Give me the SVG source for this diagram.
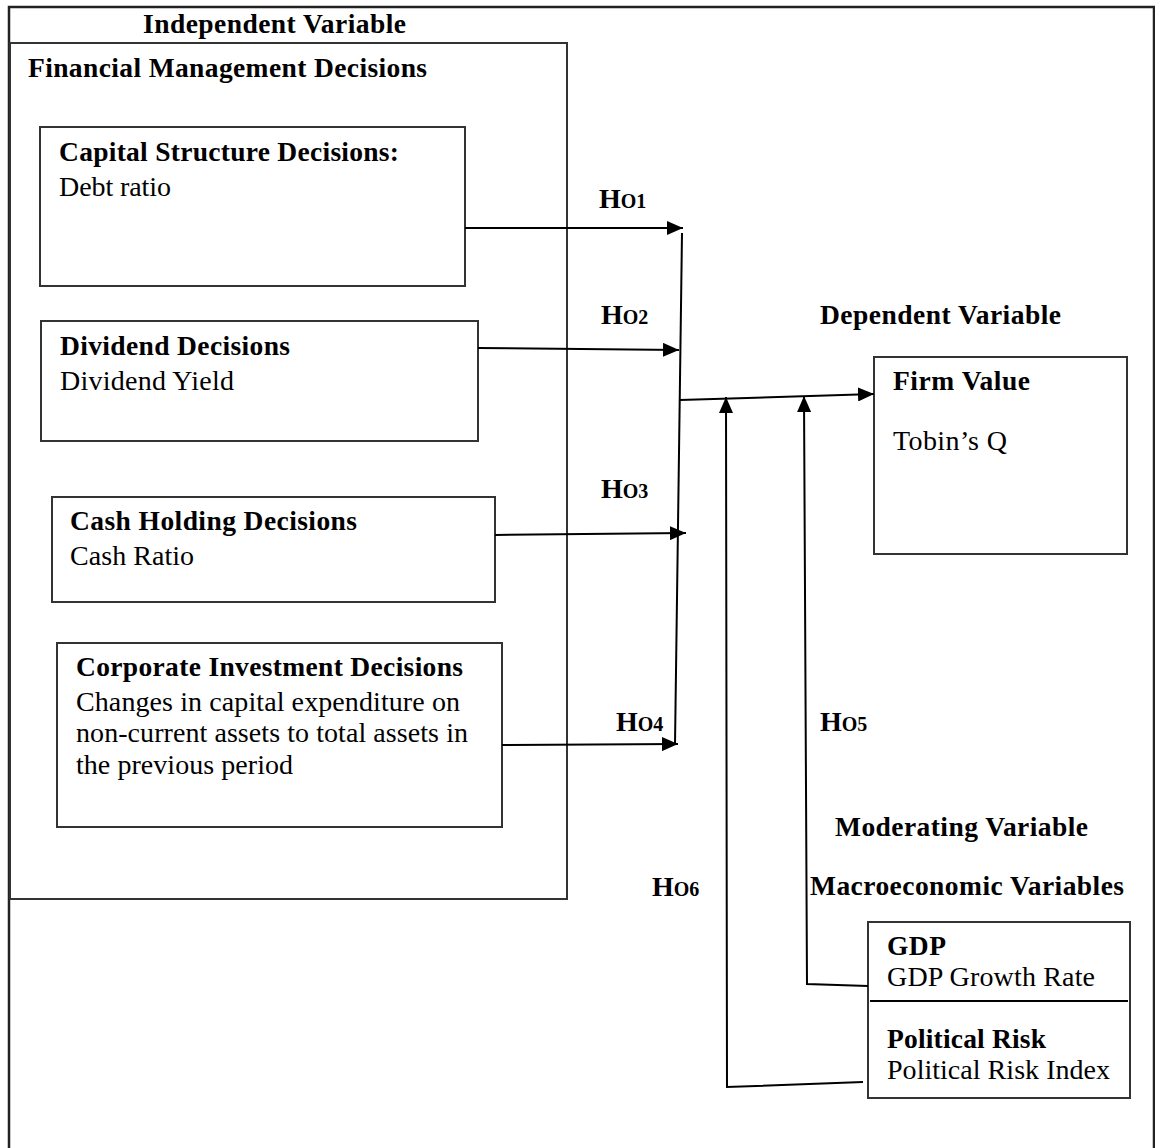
<svg xmlns="http://www.w3.org/2000/svg" width="1155" height="1148" viewBox="0 0 1155 1148">
<style>
.box{fill:#fff;stroke:#333;stroke-width:2}
.frame{fill:none;stroke:#222;stroke-width:2.5}
.b{font-family:"Liberation Serif","Times New Roman",serif;font-weight:bold;font-size:27.5px;fill:#000}
.r{font-family:"Liberation Serif","Times New Roman",serif;font-size:28px;fill:#000}
.h{font-family:"Liberation Serif","Times New Roman",serif;font-weight:bold;font-size:28px;fill:#000}
.hs{font-size:20px}
.c{fill:none;stroke:#000;stroke-width:2}
</style>
<defs>
<marker id="ah" markerUnits="userSpaceOnUse" markerWidth="17" markerHeight="14" refX="16" refY="7" orient="auto">
<path d="M0,0 L16,7 L0,14 z" fill="#000"/>
</marker>
</defs>
<rect class="frame" x="9" y="7" width="1145" height="1145"/>
<text class="b" x="143" y="33" textLength="263" lengthAdjust="spacing">Independent Variable</text>
<g id="fmd">
<rect class="box" x="10" y="43" width="557" height="856"/>
<text class="b" x="28" y="77" textLength="399" lengthAdjust="spacing">Financial Management Decisions</text>
</g>
<g id="capital">
<rect class="box" x="40" y="127" width="425" height="159"/>
<text class="b" x="59" y="161" textLength="340" lengthAdjust="spacing">Capital Structure Decisions:</text>
<text class="r" x="59" y="196" textLength="112" lengthAdjust="spacing">Debt ratio</text>
</g>
<g id="dividend">
<rect class="box" x="41" y="321" width="437" height="120"/>
<text class="b" x="60" y="355" textLength="230" lengthAdjust="spacing">Dividend Decisions</text>
<text class="r" x="60" y="390" textLength="174" lengthAdjust="spacing">Dividend Yield</text>
</g>
<g id="cash">
<rect class="box" x="52" y="497" width="443" height="105"/>
<text class="b" x="70" y="530" textLength="287" lengthAdjust="spacing">Cash Holding Decisions</text>
<text class="r" x="70" y="565" textLength="124" lengthAdjust="spacing">Cash Ratio</text>
</g>
<g id="investment">
<rect class="box" x="57" y="643" width="445" height="184"/>
<text class="b" x="76" y="676" textLength="387" lengthAdjust="spacing">Corporate Investment Decisions</text>
<text class="r" x="76" y="711" textLength="384" lengthAdjust="spacing">Changes in capital expenditure on</text>
<text class="r" x="76" y="742" textLength="392" lengthAdjust="spacing">non-current assets to total assets in</text>
<text class="r" x="76" y="774" textLength="217" lengthAdjust="spacing">the previous period</text>
</g>
<g id="firmvalue">
<text class="b" x="820" y="324" textLength="241" lengthAdjust="spacing">Dependent Variable</text>
<rect class="box" x="874" y="357" width="253" height="197"/>
<text class="b" x="893" y="390" textLength="137" lengthAdjust="spacing">Firm Value</text>
<text class="r" x="893" y="450" textLength="114" lengthAdjust="spacing">Tobin’s Q</text>
</g>
<g id="macro">
<text class="b" x="835" y="836" textLength="253" lengthAdjust="spacing">Moderating Variable</text>
<text class="b" x="810" y="895" textLength="314" lengthAdjust="spacing">Macroeconomic Variables</text>
<rect class="box" x="868" y="922" width="262" height="176"/>
<line x1="870" y1="1001" x2="1128" y2="1001" stroke="#000" stroke-width="2"/>
<text class="b" x="887" y="955" textLength="59" lengthAdjust="spacing">GDP</text>
<text class="r" x="887" y="986" textLength="208" lengthAdjust="spacing">GDP Growth Rate</text>
<text class="b" x="887" y="1048" textLength="159" lengthAdjust="spacing">Political Risk</text>
<text class="r" x="887" y="1079" textLength="223" lengthAdjust="spacing">Political Risk Index</text>
</g>
<g id="connectors">
<line class="c" x1="465" y1="228" x2="683" y2="228" marker-end="url(#ah)"/>
<line class="c" x1="478" y1="348" x2="679" y2="350" marker-end="url(#ah)"/>
<line class="c" x1="495" y1="535" x2="686" y2="533" marker-end="url(#ah)"/>
<line class="c" x1="502" y1="745" x2="678" y2="744" marker-end="url(#ah)"/>
<line class="c" x1="682" y1="233" x2="675" y2="745"/>
<line class="c" x1="680" y1="400" x2="874" y2="394" marker-end="url(#ah)"/>
<polyline class="c" points="868,986 807,984 804,396" marker-end="url(#ah)"/>
<polyline class="c" points="863,1082 727,1087 726,397" marker-end="url(#ah)"/>
<text class="h" x="599" y="208">H<tspan class="hs">O1</tspan></text>
<text class="h" x="601" y="324">H<tspan class="hs">O2</tspan></text>
<text class="h" x="601" y="498">H<tspan class="hs">O3</tspan></text>
<text class="h" x="616" y="731">H<tspan class="hs">O4</tspan></text>
<text class="h" x="820" y="731">H<tspan class="hs">O5</tspan></text>
<text class="h" x="652" y="896">H<tspan class="hs">O6</tspan></text>
</g>
</svg>
